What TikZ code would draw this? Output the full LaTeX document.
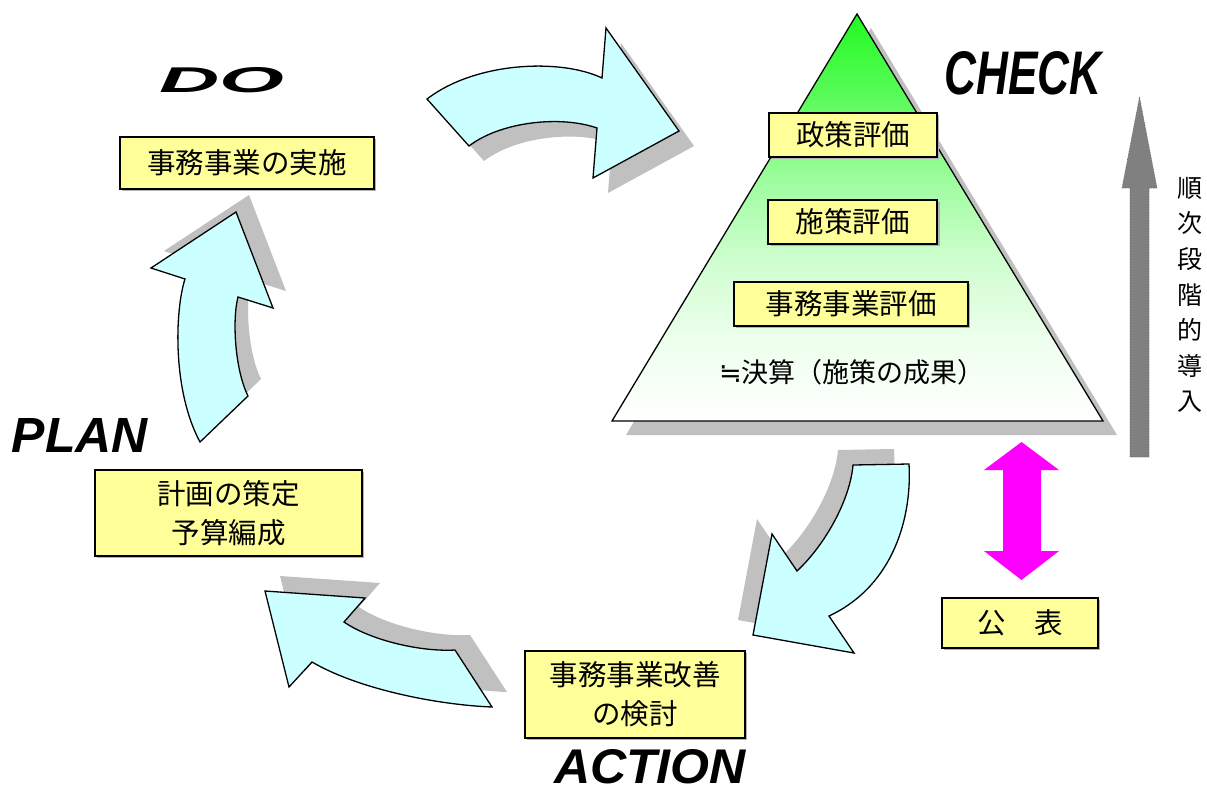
\documentclass[tikz,border=0pt]{standalone}
\usepackage{fontspec}
\usepackage{graphicx}
\newfontfamily\jp{Noto Sans CJK JP}
\newfontfamily\lat{Liberation Sans}
\newfontfamily\symfont{DejaVu Sans}
\definecolor{boxyellow}{HTML}{FFFF99}
\definecolor{arrowcyan}{HTML}{CCFFFF}
\definecolor{shadowgray}{HTML}{C0C0C0}
\definecolor{pyrgreen}{RGB}{34,250,34}
\definecolor{uparrowgray}{HTML}{808080}
\definecolor{pubmagenta}{HTML}{FF00FF}
\pgfdeclareverticalshading{pyrshade}{100bp}{color(0bp)=(white); color(25bp)=(white); color(35bp)=(pyrgreen!8!white); color(45bp)=(pyrgreen!22!white); color(55bp)=(pyrgreen!45!white); color(65bp)=(pyrgreen!75!white); color(75bp)=(pyrgreen); color(100bp)=(pyrgreen)}
\newcommand{\biglabel}[3]{\resizebox{#1pt}{#2pt}{\lat\bfseries\itshape #3}}
\tikzset{
  textbox/.style={draw=black, line width=1.3pt, fill=boxyellow, align=center, inner sep=0pt,
    font=\jp\fontsize{28.5}{39}\selectfont},
  boxshadow/.style={fill=black!30},
  cyclearrow/.style={draw=black, line width=1.3pt, fill=arrowcyan, line join=miter},
  arrowshadow/.style={fill=shadowgray},
  phase/.style={inner sep=0pt},
}
\def\arrowA{(427,99) .. controls (475,62) and (560,58) .. (602,78) -- (606,28) -- (679,131) -- (593,178) -- (597,128) .. controls (560,115) and (500,122) .. (469,146) -- cycle}
\def\arrowB{(236,212) -- (273,308) -- (238,297) .. controls (232,320) and (235,370) .. (248,396) -- (200,442) .. controls (172,390) and (175,310) .. (185,279) -- (151,268) -- cycle}
\def\arrowC{(265,591) -- (365,598) -- (344,622) .. controls (370,640) and (420,652) .. (455,650) -- (492,707) .. controls (440,705) and (360,690) .. (312,662) -- (289,687) -- cycle}
\def\arrowD{(853,465) -- (909,464) .. controls (912,515) and (895,585) .. (829,616) -- (854,653) -- (753,635) -- (772,534) -- (797,571) .. controls (825,545) and (850,500) .. (853,465) -- cycle}
\begin{document}
\begin{tikzpicture}[x=1pt,y=-1pt]
\useasboundingbox[fill=white] (0,0) rectangle (1207,796);

% cycle arrows with shadows
\fill[arrowshadow, shift={(15,15)}] \arrowA;
\draw[cyclearrow] \arrowA;
\fill[arrowshadow, shift={(13,-17)}] \arrowB;
\draw[cyclearrow] \arrowB;
\fill[arrowshadow, shift={(15,-15)}] \arrowC;
\draw[cyclearrow] \arrowC;
\fill[arrowshadow, shift={(-15,-15)}] \arrowD;
\draw[cyclearrow] \arrowD;

% pyramid
\fill[shadowgray] (871,28) -- (1117,435) -- (626,435) -- cycle;
\draw[line width=1.3pt, shading=pyrshade]
  (857,14) -- (1103,421) -- (612,421) -- cycle;

% boxes
\fill[boxshadow] (122,139) rectangle (376,191);
\node[textbox, minimum width=254pt, minimum height=52pt] (do) at (247,163) {事務事業の実施};
\fill[boxshadow] (97,472) rectangle (364,558);
\node[textbox, minimum width=267pt, minimum height=86pt] (plan) at (228.5,513) {計画の策定\\予算編成};
\fill[boxshadow] (527,653) rectangle (747,740);
\node[textbox, minimum width=220pt, minimum height=87pt] (act) at (635,694.5) {事務事業改善\\の検討};
\fill[boxshadow] (944,600) rectangle (1100,650);
\node[textbox, minimum width=156pt, minimum height=50pt] (pub) at (1020,623) {公　表};
\fill[boxshadow] (771,115) rectangle (939,159);
\node[textbox, minimum width=168pt, minimum height=44pt] (c1) at (853,135) {政策評価};
\fill[boxshadow] (770.5,202) rectangle (939.5,246);
\node[textbox, minimum width=169pt, minimum height=44pt] (c2) at (852.5,222) {施策評価};
\fill[boxshadow] (736,284) rectangle (970,328);
\node[textbox, minimum width=234pt, minimum height=44pt] (c3) at (851,304) {事務事業評価};
\node[font=\jp\fontsize{27}{30}\selectfont, inner sep=0pt] (kessan) at (852,372) {{\symfont ≒}決算（施策の成果）};

% phase labels
\node[phase] (lblDO) at (222,80) {\biglabel{125}{25}{DO}};
\node[phase] (lblCHECK) at (1023,73) {\biglabel{157}{43}{CHECK}};
\node[phase] (lblPLAN) at (80,435) {\biglabel{136}{34}{PLAN}};
\node[phase] (lblACTION) at (650,767) {\biglabel{192}{34}{ACTION}};

% gradual introduction arrow
\draw[fill=uparrowgray, draw=black!60, densely dotted, line width=0.6pt]
  (1139.5,97) -- (1157,188) -- (1149,188) -- (1149,457) -- (1130,457) -- (1130,188) -- (1122,188) -- cycle;
\node[font=\jp\fontsize{25}{35.6}\selectfont, align=center, inner sep=0pt] (intro) at (1190,295) {順\\次\\段\\階\\的\\導\\入};

% publication double arrow
\fill[pubmagenta] (1021.5,442) -- (1059,470) -- (1041,470) -- (1041,551) -- (1059,551) -- (1021.5,580)
  -- (984,551) -- (1003,551) -- (1003,470) -- (984,470) -- cycle;
\end{tikzpicture}
\end{document}
